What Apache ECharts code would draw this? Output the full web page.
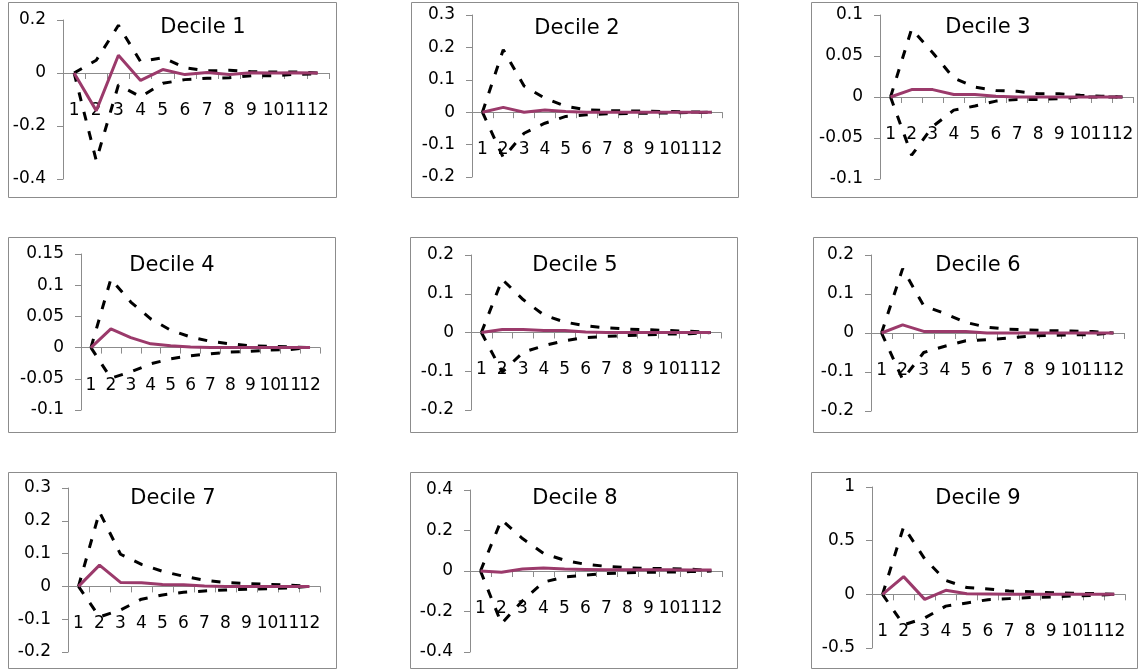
<!DOCTYPE html>
<html><head><meta charset="utf-8">
<script src="https://cdn.jsdelivr.net/npm/echarts@6/dist/echarts.min.js"></script>
<style>html,body{margin:0;padding:0;background:#fff}#c{width:1138px;height:670px}</style>
</head><body><div id="c"></div>
<script>
const categories = ['1','2','3','4','5','6','7','8','9','10','11','12'];
const titles = ['Decile 1','Decile 2','Decile 3','Decile 4','Decile 5','Decile 6','Decile 7','Decile 8','Decile 9'];

const irf1 = [0,-0.142,0.067,-0.028,0.013,-0.006,0.002,-0.006,0.001,0,0.001,0];
const up1  = [0,0.048,0.18,0.043,0.058,0.02,0.008,0.01,0.005,0.004,0.004,0];
const lo1  = [0,-0.33,-0.045,-0.09,-0.039,-0.025,-0.02,-0.018,-0.01,-0.01,-0.005,-0.003];

const irf2 = [0,0.015,0,0.007,0.002,0,0,0,0,0,0,0];
const up2  = [0,0.193,0.081,0.043,0.018,0.007,0.005,0.004,0.003,0.002,0.001,0];
const lo2  = [0,-0.14,-0.065,-0.034,-0.013,-0.008,-0.005,-0.004,-0.003,-0.002,-0.001,0];

const irf3 = [0,0.009,0.009,0.003,0.003,0.001,0,0,0,0,0,0];
const up3  = [0,0.083,0.054,0.023,0.012,0.008,0.007,0.004,0.004,0.002,0.001,0];
const lo3  = [0,-0.071,-0.036,-0.016,-0.011,-0.005,-0.003,-0.003,-0.002,0,0,0];

const irf4 = [0,0.030,0.016,0.006,0.003,0.001,0,0,0,0,0,0];
const up4  = [0,0.11,0.073,0.046,0.028,0.017,0.010,0.006,0.003,0.002,0.001,0];
const lo4  = [0,-0.049,-0.039,-0.026,-0.018,-0.013,-0.01,-0.007,-0.006,-0.004,-0.003,0];

const irf5 = [0,0.008,0.008,0.005,0.005,0.001,0,0,0,0,0,0];
const up5  = [0,0.137,0.085,0.045,0.027,0.017,0.012,0.009,0.007,0.005,0.003,0];
const lo5  = [0,-0.102,-0.051,-0.034,-0.021,-0.013,-0.01,-0.008,-0.006,-0.004,-0.003,0];

const irf6 = [0,0.021,0.004,0.004,0.004,0,0,0,0,0,0,0];
const up6  = [0,0.165,0.07,0.05,0.027,0.015,0.01,0.008,0.006,0.005,0.004,0];
const lo6  = [0,-0.119,-0.05,-0.034,-0.02,-0.017,-0.013,-0.008,-0.006,-0.005,-0.004,0];

const irf7 = [0,0.065,0.012,0.011,0.006,0.005,0.001,0,0,0,0,0];
const up7  = [0,0.227,0.098,0.067,0.046,0.031,0.019,0.012,0.009,0.006,0.004,0];
const lo7  = [0,-0.093,-0.072,-0.039,-0.026,-0.018,-0.014,-0.011,-0.009,-0.007,-0.005,0];

const irf8 = [0,-0.006,0.01,0.015,0.01,0.008,0.006,0.006,0.006,0.006,0.005,0.005];
const up8  = [0,0.253,0.16,0.087,0.053,0.033,0.023,0.016,0.013,0.011,0.01,0];
const lo8  = [0,-0.26,-0.147,-0.055,-0.03,-0.02,-0.013,-0.009,-0.006,-0.005,-0.003,0];

const irf9 = [0,0.165,-0.047,0.038,0.005,0.003,0,0,0,0,0,0];
const up9  = [0,0.63,0.33,0.13,0.063,0.05,0.03,0.025,0.015,0.01,0.008,0];
const lo9  = [0,-0.285,-0.22,-0.11,-0.08,-0.05,-0.04,-0.03,-0.025,-0.015,-0.01,0];

const yMin  = [-0.4,-0.2,-0.1,-0.1,-0.2,-0.2,-0.2,-0.4,-0.5];
const yMax  = [0.2,0.3,0.1,0.15,0.2,0.2,0.3,0.4,1];
const yStep = [0.2,0.1,0.05,0.05,0.1,0.1,0.1,0.2,0.5];

const irfs = [irf1,irf2,irf3,irf4,irf5,irf6,irf7,irf8,irf9];
const ups  = [up1,up2,up3,up4,up5,up6,up7,up8,up9];
const los  = [lo1,lo2,lo3,lo4,lo5,lo6,lo7,lo8,lo9];

// layout (pixels)
const panels = [
  [8,2,328,195],[411,2,327,195],[811,2,326,195],
  [8,237,327,195],[410,237,327,195],[813,237,324,195],
  [8,472,328,196],[410,472,327,196],[811,472,326,196]
];
const grids = [
  [63,20,266,159],[472,15,250,162],[880,15,253,164],
  [81,254,239,156],[471,255,250,155],[871,255,253,156],
  [68,488,252,164],[470,490,252,162],[872,487,253,161]
];
const titlePos = [[203,17],[577,18],[988,17],[172,255],[575,255],[978,255],[173,488],[575,488],[978,488]];

const FONT = 'DejaVu Sans';
const AX = '#8c8c8c';
const option = {
  animation: false,
  backgroundColor: '#fff',
  title: [], grid: [], xAxis: [], yAxis: [], series: [],
  graphic: panels.map(p => ({
    type: 'rect', silent: true, z: -1,
    shape: {x: p[0] + 0.5, y: p[1] + 0.5, width: p[2], height: p[3]},
    style: {fill: 'none', stroke: '#8c8c8c', lineWidth: 1}
  }))
};
for (let i = 0; i < 9; i++) {
  const g = grids[i];
  // move the category axis (line, ticks, labels) up to the y = 0 level
  const zeroOffset = -g[3] * (0 - yMin[i]) / (yMax[i] - yMin[i]);
  option.grid.push({left: g[0], top: g[1], width: g[2], height: g[3], containLabel: false, outerBoundsMode: 'none'});
  option.title.push({
    text: titles[i], left: titlePos[i][0], top: titlePos[i][1], textAlign: 'center', padding: 0,
    textStyle: {fontFamily: FONT, fontSize: 21, fontWeight: 'normal', color: '#000'}
  });
  option.xAxis.push({
    type: 'category', gridIndex: i, data: categories, boundaryGap: true,
    position: 'bottom', offset: zeroOffset,
    axisLine: {onZero: false, lineStyle: {color: AX, width: 1}},
    axisTick: {show: true, length: 6, lineStyle: {color: AX}},
    axisLabel: {interval: 0, margin: 29, fontFamily: FONT, fontSize: 17, color: '#000'},
    splitLine: {show: false}
  });
  option.yAxis.push({
    type: 'value', gridIndex: i, min: yMin[i], max: yMax[i], interval: yStep[i],
    axisLine: {show: true, onZero: false, lineStyle: {color: AX, width: 1}},
    axisTick: {show: true, length: 6, lineStyle: {color: AX}},
    axisLabel: {margin: 17, fontFamily: FONT, fontSize: 17, color: '#000'},
    splitLine: {show: false}
  });
  const dashed = {color: '#000', width: 3, type: [9, 11]};
  option.series.push(
    {type: 'line', xAxisIndex: i, yAxisIndex: i, data: ups[i], symbol: 'none', lineStyle: dashed, z: 2},
    {type: 'line', xAxisIndex: i, yAxisIndex: i, data: los[i], symbol: 'none', lineStyle: dashed, z: 2},
    {type: 'line', xAxisIndex: i, yAxisIndex: i, data: irfs[i], symbol: 'none', lineStyle: {color: '#9b3a6b', width: 3}, z: 3}
  );
}
const chart = echarts.init(document.getElementById('c'), null, {renderer: 'canvas'});
chart.setOption(option);
</script></body></html>
